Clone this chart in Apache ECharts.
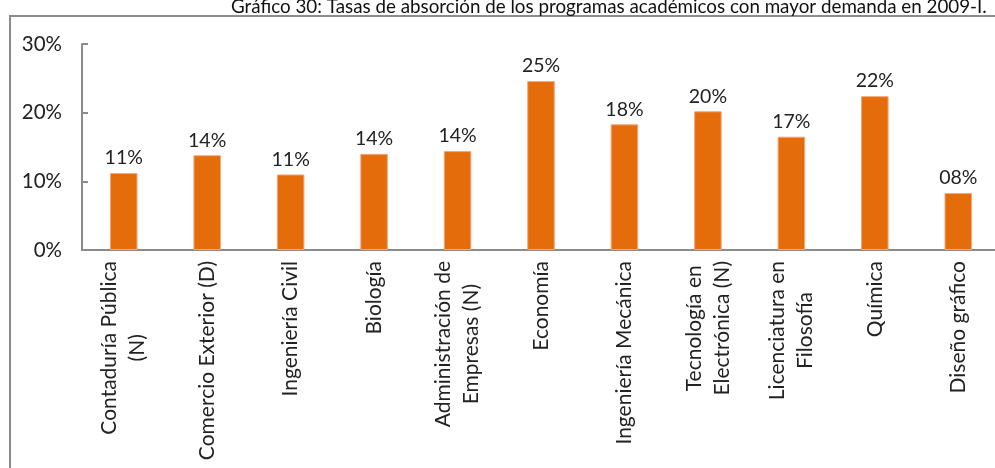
<!DOCTYPE html>
<html>
<head>
<meta charset="utf-8">
<script src="https://cdn.jsdelivr.net/npm/echarts@6/dist/echarts.min.js"></script>
<style>
  html, body { margin: 0; padding: 0; background: #fff; }
  #chart { width: 995px; height: 468px; }
</style>
</head>
<body>
<div id="chart"></div>
<script>
// datos del gráfico
const titleText = "Gráfico 30: Tasas de absorción de los programas académicos con mayor demanda en 2009-I.";
const categories = [
  "Contaduría Pública\n(N)",
  "Comercio Exterior (D)",
  "Ingeniería Civil",
  "Biología",
  "Administración de\nEmpresas (N)",
  "Economía",
  "Ingeniería Mecánica",
  "Tecnología en\nElectrónica (N)",
  "Licenciatura en\nFilosofía",
  "Química",
  "Diseño gráfico",
];
const tasas = [11.2, 13.8, 11.0, 14.0, 14.4, 24.6, 18.3, 20.2, 16.5, 22.4, 8.3];
const yTicks = [0, 10, 20, 30];

const fontFamily = "Lato";
const axisGray = "#8c8c8c";

const chart = echarts.init(document.getElementById("chart"));

const option = {
  animation: false,
  textStyle: { fontFamily: fontFamily },
  title: {
    text: titleText,
    left: 226,
    top: -8,
    textStyle: {
      fontFamily: fontFamily,
      fontSize: 18.8,
      fontWeight: "normal",
      color: "#111",
    },
  },
  graphic: [
    {
      type: "rect",
      shape: { x: 10, y: 16, width: 1000, height: 470 },
      style: { fill: null, stroke: axisGray, lineWidth: 2 },
      silent: true,
      z: -1,
    },
  ],
  grid: {
    left: 82,
    top: 44,
    width: 918,
    bottom: 218,
    outerBoundsMode: "none",
  },
  xAxis: {
    type: "category",
    data: categories,
    axisLine: { lineStyle: { color: axisGray, width: 2 } },
    axisTick: {
      inside: true,
      length: 6,
      lineStyle: { color: axisGray, width: 2 },
    },
    axisLabel: {
      rotate: 90,
      interval: 0,
      margin: 11,
      fontSize: 21,
      color: "#222",
      formatter: (v) => v.split("\n").map((s) => "{c|" + s + "}").join("\n"),
      rich: {
        c: { align: "center", fontSize: 21, color: "#222", lineHeight: 28 },
      },
    },
  },
  yAxis: {
    type: "value",
    min: yTicks[0],
    max: yTicks[yTicks.length - 1],
    interval: yTicks[1] - yTicks[0],
    axisLine: { show: true, lineStyle: { color: axisGray, width: 2 } },
    axisTick: {
      show: true,
      inside: true,
      length: 6,
      lineStyle: { color: axisGray, width: 2 },
    },
    splitLine: { show: false },
    axisLabel: {
      margin: 20,
      fontSize: 20.5,
      color: "#222",
      formatter: "{value}%",
    },
  },
  series: [
    {
      type: "bar",
      data: tasas,
      barWidth: "33%",
      itemStyle: {
        color: "#E46C0A",
        borderColor: "#F3A77A",
        borderWidth: 1,
      },
      label: {
        show: true,
        position: "top",
        distance: 5,
        fontSize: 19.5,
        color: "#222",
        formatter: (p) => String(Math.round(p.value)).padStart(2, "0") + "%",
      },
    },
  ],
};

chart.setOption(option);
</script>
</body>
</html>
